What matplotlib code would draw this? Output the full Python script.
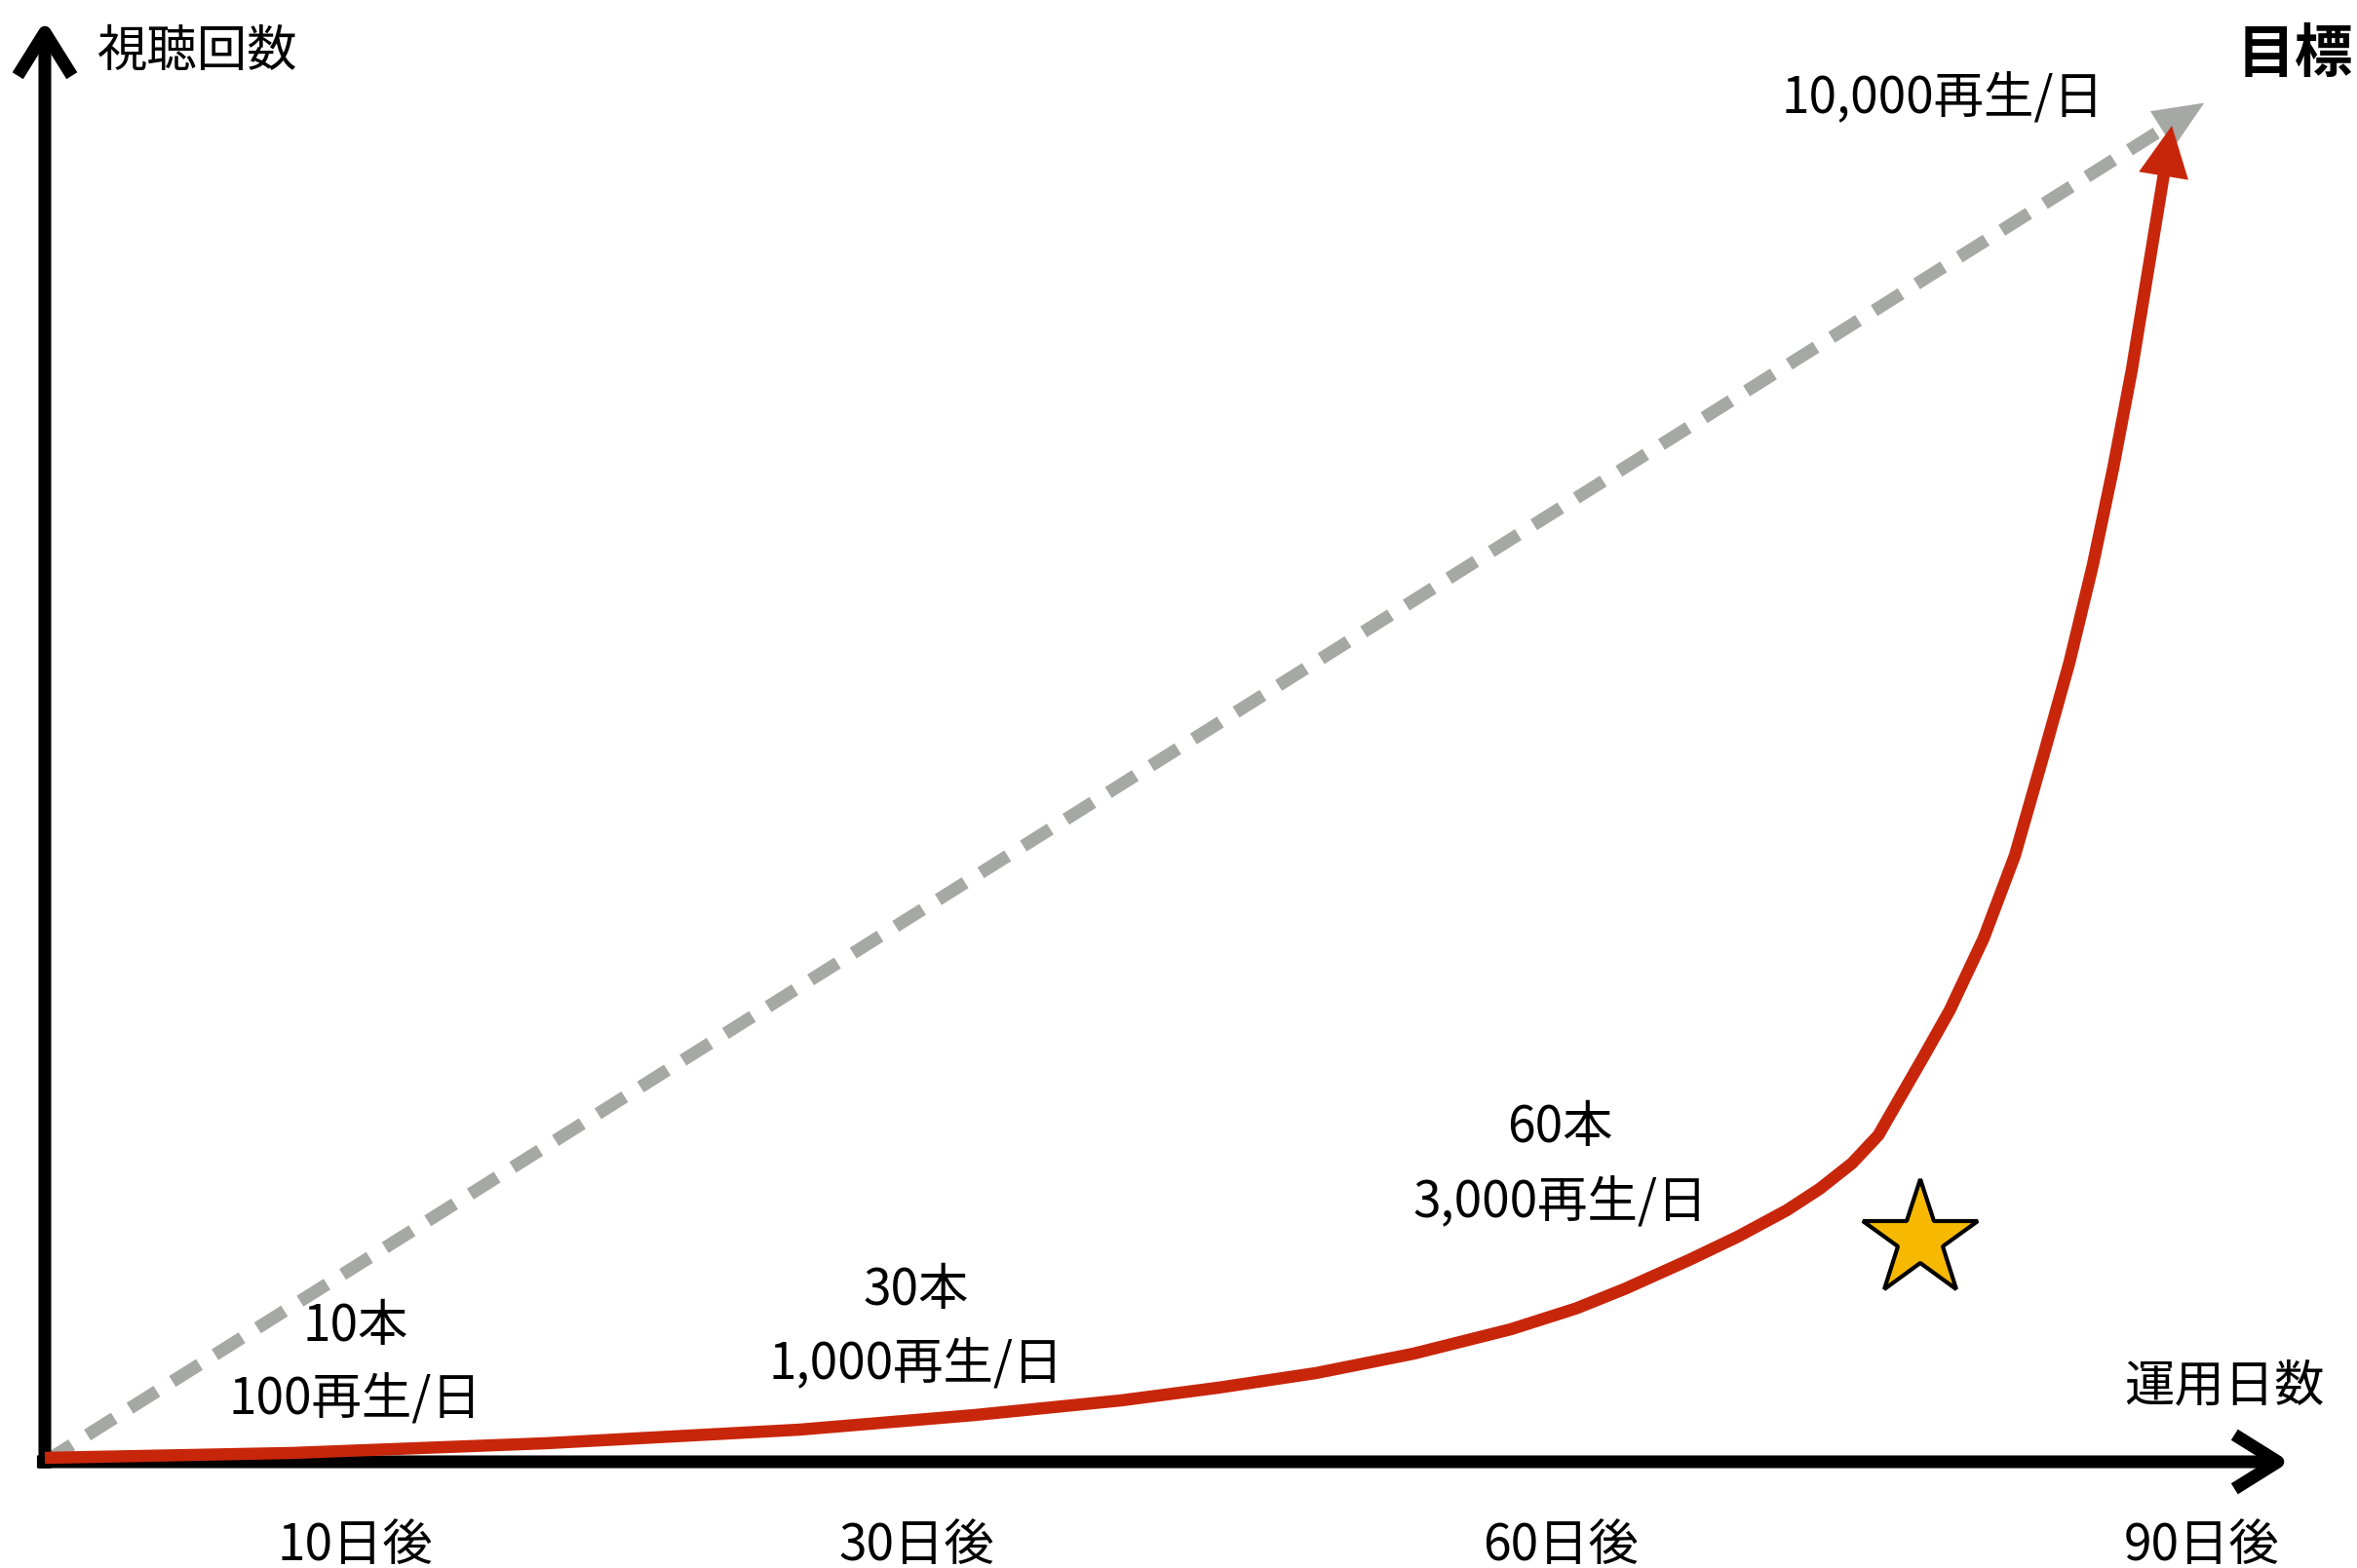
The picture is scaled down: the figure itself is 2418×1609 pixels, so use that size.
import numpy as np
import matplotlib
matplotlib.use('Agg')
import matplotlib.pyplot as plt

plt.rcParams['font.family'] = ['Noto Sans CJK JP', 'DejaVu Sans']

# x axis milestones
tick_labels = ['10日後', '30日後', '60日後', '90日後']

# videos posted and daily views at each milestone
videos = ['10本', '30本', '60本']
views = ['100再生/日', '1,000再生/日', '3,000再生/日']
goal_text = '10,000再生/日'

# actual growth curve (schematic units, 0-100 on both axes)
curve_x = [0, 11.00, 22.25, 33.51, 41.30, 47.79, 52.12, 56.45, 60.78, 65.11,
           68.01, 70.17, 73.03, 75.19, 77.36, 78.83, 80.26, 81.43, 82.42, 83.42,
           84.59, 86.10, 87.49, 88.70, 89.91, 90.95, 91.86, 92.68, 94.46]
curve_y = [0.27, 0.61, 1.28, 2.22, 3.23, 4.24, 5.12, 6.13, 7.47, 9.16,
           10.60, 11.95, 13.95, 15.56, 17.38, 18.87, 20.63, 22.57, 25.25, 27.95,
           31.18, 36.16, 41.89, 48.48, 55.22, 61.95, 68.69, 75.42, 92.32]

# straight-line target
goal_x = [0, 95.9]
goal_y = [0, 93.9]

star_x, star_y = 83.3, 15.35

RED = '#C8260B'
GRAY = '#A5A8A5'
STAR = '#F6B900'

W, H = 2418, 1609
ox, oy = 46, 1500          # origin in pixels
ux, uy = 23.1, 14.85       # pixels per unit

fig = plt.figure(figsize=(W / 100, H / 100), dpi=100)
ax = fig.add_axes([0, 0, 1, 1])
ax.set_xlim(-ox / ux, (W - ox) / ux)
ax.set_ylim(-(H - oy) / uy, oy / uy)
ax.axis('off')

tick_pos = [13.8, 38.7, 67.3, 95.8]


def head_base(x0, y0, x1, y1, length_px):
    """Point length_px back from (x1, y1) along the segment from (x0, y0)."""
    p0 = ax.transData.transform((x0, y0))
    p1 = ax.transData.transform((x1, y1))
    d = (p1 - p0) / np.hypot(*(p1 - p0))
    return ax.transData.inverted().transform(p1 - d * length_px)


# axes drawn as arrows
axis_kw = dict(arrowstyle='->,head_length=3.2,head_width=2.0', mutation_scale=10,
               lw=9.4, color='black', shrinkA=0, shrinkB=0,
               joinstyle='round', capstyle='butt')
ax.annotate('', xy=(99.7, 0), xytext=(-0.35, 0), arrowprops=axis_kw)
ax.annotate('', xy=(0, 99.6), xytext=(0, -0.45), arrowprops=axis_kw)

# target dashed line
gb = head_base(goal_x[0], goal_y[0], goal_x[1], goal_y[1], 48)
ax.plot([goal_x[0], gb[0]], [goal_y[0], gb[1]],
        color=GRAY, lw=9.4, dashes=(2.5, 1.45), dash_capstyle='butt', zorder=2)
ax.annotate('', xy=(goal_x[1], goal_y[1]), xytext=(goal_x[0], goal_y[0]),
            arrowprops=dict(arrowstyle='-|>,head_length=3.7,head_width=1.6',
                            mutation_scale=10, lw=0, color=GRAY,
                            shrinkA=0, shrinkB=0), zorder=2)

# actual growth curve
rb = head_base(curve_x[-2], curve_y[-2], curve_x[-1], curve_y[-1], 50)
ax.plot(curve_x[:-1] + [rb[0]], curve_y[:-1] + [rb[1]], color=RED, lw=9,
        solid_capstyle='butt', solid_joinstyle='round', zorder=3)
ax.annotate('', xy=(curve_x[-1], curve_y[-1]), xytext=(curve_x[-2], curve_y[-2]),
            arrowprops=dict(arrowstyle='-|>,head_length=3.75,head_width=1.85',
                            mutation_scale=10, lw=0, color=RED,
                            shrinkA=0, shrinkB=0), zorder=3)

# star
ax.plot(star_x, star_y, marker='*', ms=90, mfc=STAR, mec='black', mew=3, zorder=4)

fs = 37
for x, lab in zip(tick_pos, tick_labels):
    ax.text(x, -5.8, lab, fontsize=fs, ha='center', va='center')

label_y = [(9.36, 4.24), (11.85, 6.67), (23.1, 17.85)]
for x, v, r, (y1, y2) in zip(tick_pos, videos, views, label_y):
    ax.text(x, y1, v, fontsize=fs, ha='center', va='center')
    ax.text(x, y2, r, fontsize=fs, ha='center', va='center')

ax.text(84.3, 94.2, goal_text, fontsize=fs, ha='center', va='center')
ax.text(102.5, 97.2, '目標', fontsize=43, fontweight='bold', ha='right', va='center')
ax.text(2.3, 97.4, '視聴回数', fontsize=fs, ha='left', va='center')
ax.text(96.8, 5.25, '運用日数', fontsize=fs, ha='center', va='center')

fig.savefig('out.png', dpi=100, facecolor='white')
